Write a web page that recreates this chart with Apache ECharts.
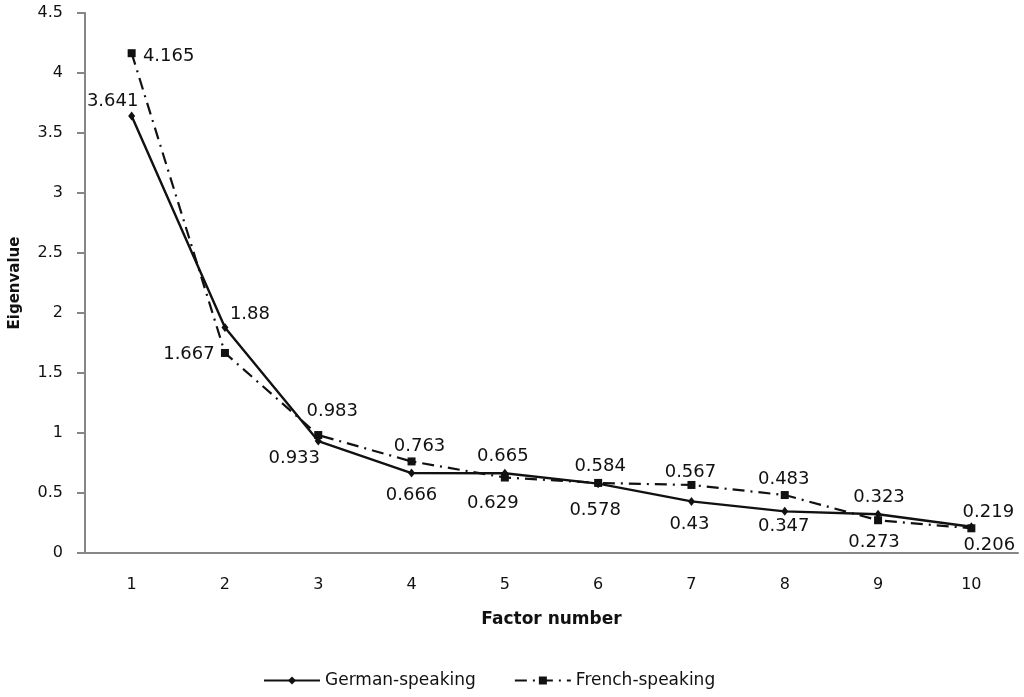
<!DOCTYPE html>
<html style="height: 100%">
<head>
    <meta charset="utf-8">
</head>
<body style="height: 100%; margin: 0; background: #fff">
<div id="container" style="width: 1024px; height: 697px"></div>

<script type="text/javascript" src="https://cdn.jsdelivr.net/npm/echarts@6/dist/echarts.min.js"></script>
<script type="text/javascript">
    // factor numbers and eigenvalues
    var factors = ['1', '2', '3', '4', '5', '6', '7', '8', '9', '10'];
    var german = [3.641, 1.88, 0.933, 0.666, 0.665, 0.578, 0.43, 0.347, 0.323, 0.219];
    var french = [4.165, 1.667, 0.983, 0.763, 0.629, 0.584, 0.567, 0.483, 0.273, 0.206];

    // label offsets (px) from each point, so labels sit where the original put them
    var germanLabelOffset = [[-19, -15], [25, -13], [-24, 17], [0, 22], [-2, -17],
        [-3, 27], [-2, 23], [-1, 15], [1, -17], [17, -14]];
    var frenchLabelOffset = [[37, 3], [-36, 1], [14, -24], [8, -15], [-12, 26],
        [2, -17], [-1, -13], [-1, -16], [-4, 22], [18, 17]];

    var font = 'DejaVu Sans';
    var axisGray = '#868686';

    function withLabels(values, offsets) {
        return values.map(function (v, i) {
            return {
                value: v,
                label: {offset: offsets[i]}
            };
        });
    }

    var dom = document.getElementById('container');
    var myChart = echarts.init(dom);

    var labelStyle = {
        show: true,
        position: 'inside',
        align: 'center',
        verticalAlign: 'middle',
        fontFamily: font,
        fontSize: 18,
        color: '#111'
    };

    var option = {
        backgroundColor: '#fff',
        animation: false,
        grid: {left: 83, right: 6, top: 13, bottom: 144},
        legend: {
            bottom: 3,
            left: 258,
            itemWidth: 56,
            itemHeight: 10,
            itemGap: 38,
            textStyle: {fontFamily: font, fontSize: 17, color: '#111'},
            data: ['German-speaking', 'French-speaking']
        },
        xAxis: {
            type: 'category',
            data: factors,
            name: 'Factor number',
            nameLocation: 'middle',
            nameGap: 58,
            nameTextStyle: {fontFamily: font, fontSize: 17, fontWeight: 'bold', color: '#111'},
            axisLine: {lineStyle: {color: axisGray, width: 2}},
            axisTick: {length: 7, lineStyle: {color: axisGray, width: 2}},
            axisLabel: {fontFamily: font, fontSize: 16, color: '#111', margin: 24},
            splitLine: {show: false}
        },
        yAxis: {
            type: 'value',
            min: 0,
            max: 4.5,
            interval: 0.5,
            name: 'Eigenvalue',
            nameLocation: 'middle',
            nameGap: 62,
            nameTextStyle: {fontFamily: font, fontSize: 15, fontWeight: 'bold', color: '#111'},
            axisLine: {show: true, lineStyle: {color: axisGray, width: 2}},
            axisTick: {show: true, length: 8, lineStyle: {color: axisGray, width: 2}},
            axisLabel: {fontFamily: font, fontSize: 16, color: '#111', margin: 22},
            splitLine: {show: false}
        },
        series: [
            {
                name: 'German-speaking',
                type: 'line',
                data: withLabels(german, germanLabelOffset),
                symbol: 'diamond',
                symbolSize: [7, 9],
                itemStyle: {color: '#111'},
                lineStyle: {color: '#111', width: 2.4, type: 'solid'},
                label: labelStyle,
                z: 3
            },
            {
                name: 'French-speaking',
                type: 'line',
                data: withLabels(french, frenchLabelOffset),
                symbol: 'rect',
                symbolSize: 8,
                itemStyle: {color: '#111'},
                lineStyle: {color: '#111', width: 2.2, type: [12, 6, 2, 6]},
                label: labelStyle,
                z: 2
            }
        ]
    };

    if (option && typeof option === 'object') {
        myChart.setOption(option);
    }
</script>
</body>
</html>
